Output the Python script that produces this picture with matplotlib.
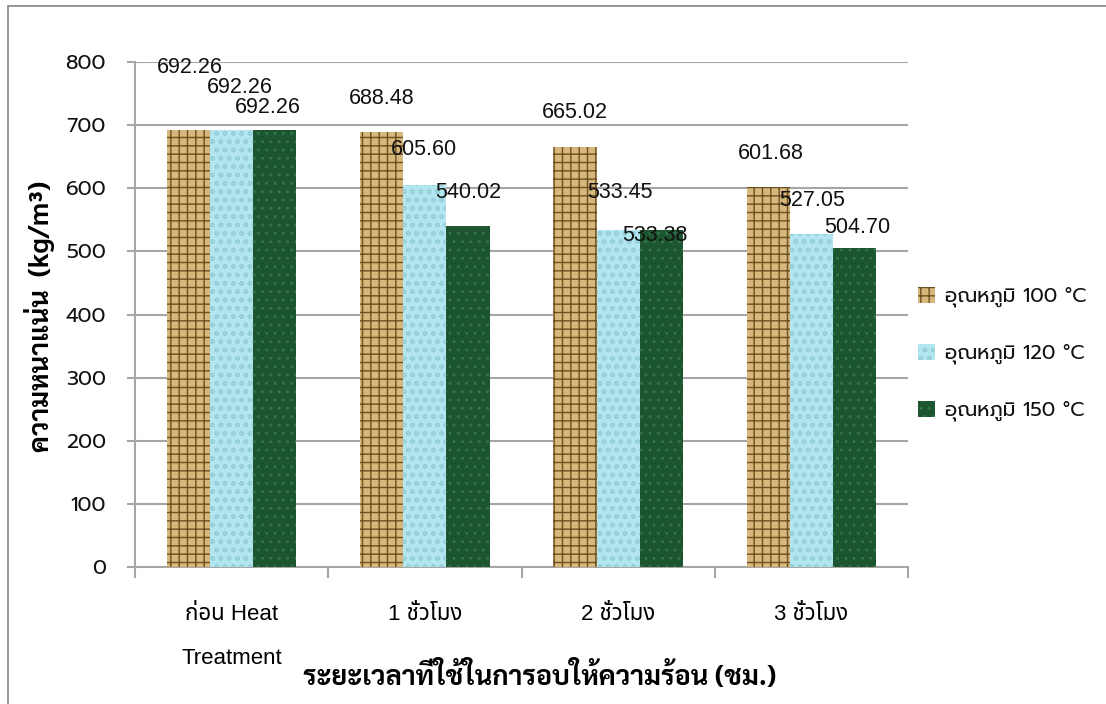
import numpy as np
import matplotlib
matplotlib.use("Agg")
import matplotlib.pyplot as plt
from matplotlib.patches import Rectangle

# data
categories = ["ก่อน Heat\nTreatment", "1 ชั่วโมง", "2 ชั่วโมง", "3 ชั่วโมง"]
series_names = ["อุณหภูมิ 100 °C", "อุณหภูมิ 120 °C", "อุณหภูมิ 150 °C"]
temp_100 = [692.26, 688.48, 665.02, 601.68]
temp_120 = [692.26, 605.60, 533.45, 527.05]
temp_150 = [692.26, 540.02, 533.38, 504.70]
y_ticks = [0, 100, 200, 300, 400, 500, 600, 700, 800]

# label offsets (pixels) from the top of each bar, as placed in the original
label_offsets = [
    [(1, 63), (0, 34), (0, 35), (3, 34)],
    [(8, 43), (-1, 35), (2, 38), (1, 34)],
    [(-7, 23), (0, 34), (-6, -5), (3, 21)],
]

styles = [
    dict(facecolor="#d6b87c", edgecolor="#6e4f22", hatch="++"),
    dict(facecolor="#b4e6ef", edgecolor="#93d0dc", hatch="oo"),
    dict(facecolor="#1d5531", edgecolor="#2f774a", hatch=".."),
]

light_font = ["Prompt", "DejaVu Sans"]
tick_font = ["Liberation Sans", "Noto Sans Thai", "DejaVu Sans"]
thai_bold = ["Sarabun", "DejaVu Sans"]

plt.rcParams["hatch.linewidth"] = 1.0

fig = plt.figure(figsize=(11.06, 7.04), dpi=100)
ax = fig.add_axes([135 / 1106, 1 - 567 / 704, (908 - 135) / 1106, (567 - 62) / 704])

# outer frame like the original chart area
fig.patches.append(Rectangle((8 / 1106, -0.5), 2.0, 1.5 - 6 / 704, transform=fig.transFigure,
                             fill=False, edgecolor="#8c8c8c", linewidth=1.3, zorder=0))

x = np.arange(len(categories))
width = 0.223
all_series = [temp_100, temp_120, temp_150]
for i, (vals, name, st) in enumerate(zip(all_series, series_names, styles)):
    bars = ax.bar(x + (i - 1) * width, vals, width, label=name, linewidth=0, zorder=3, **st)
    for j, b in enumerate(bars):
        dx, dy = label_offsets[i][j]
        ax.annotate(f"{vals[j]:.2f}", (b.get_x() + b.get_width() / 2, b.get_height()),
                    xytext=(dx, dy), textcoords="offset pixels", ha="center", va="center",
                    fontsize=15.5, family=["Liberation Sans"], color="#111111", zorder=5)

ax.set_xlim(-0.5, len(categories) - 0.5)
ax.set_ylim(0, 800)
ax.set_yticks(y_ticks)
ax.yaxis.grid(True, color="#a6a6a6", linewidth=1.5, zorder=0)
ax.set_axisbelow(True)
for s in ["top", "right"]:
    ax.spines[s].set_visible(False)
for s in ["left", "bottom"]:
    ax.spines[s].set_color("#a6a6a6")
    ax.spines[s].set_linewidth(1.5)

ax.tick_params(axis="y", length=6, width=1.5, color="#a6a6a6", pad=15)
for t in ax.get_yticklabels():
    t.set_family(light_font)
    t.set_fontsize(15)
    t.set_color("#111111")

ax.set_xticks(x)
ax.set_xticklabels(categories, linespacing=2.4)
ax.set_xticks(np.arange(len(categories) + 1) - 0.5, minor=True)
ax.tick_params(axis="x", which="major", length=0, pad=27)
ax.tick_params(axis="x", which="minor", length=8, width=1.5, color="#a6a6a6")
for t in ax.get_xticklabels():
    t.set_family(tick_font)
    t.set_fontsize(16)
    t.set_va("top")

fig.text(540 / 1106, 1 - 676 / 704, "ระยะเวลาที่ใช้ในการอบให้ความร้อน (ชม.)",
         ha="center", va="center", fontsize=19.5, fontweight="bold", family=thai_bold)
fig.text(40 / 1106, 1 - 316 / 704, "ความหนาแน่น  (kg/m³)", rotation=90,
         ha="center", va="center", fontsize=19.5, fontweight="bold", family=thai_bold)

leg = fig.legend(loc="center left", bbox_to_anchor=(900 / 1106, 1 - 354 / 704), frameon=False,
                 prop={"family": light_font, "size": 14.5},
                 handlelength=0.85, handleheight=0.85, handletextpad=0.5, labelspacing=1.8)
for t in leg.get_texts():
    t.set_color("#111111")

fig.savefig("out.png")
